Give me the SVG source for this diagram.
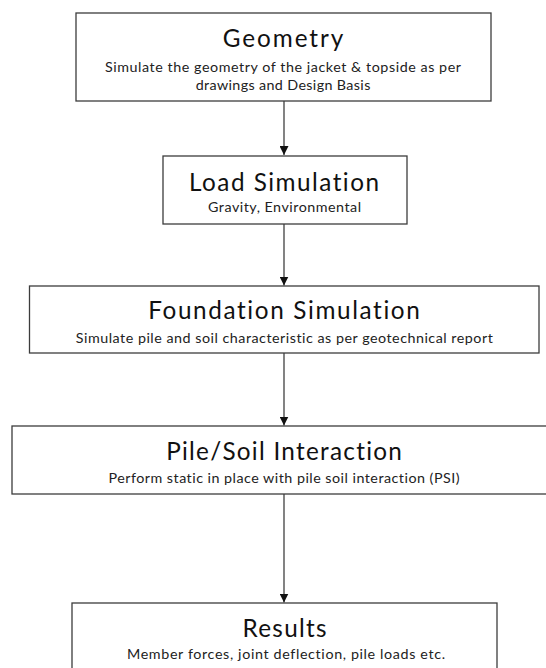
<svg xmlns="http://www.w3.org/2000/svg" width="546" height="668" viewBox="0 0 546 668">
<style>
.box{fill:#ffffff;stroke:#3c3c3c;stroke-width:1.3}
.t{font-family:Lato,"Liberation Sans",sans-serif;font-size:24.3px;fill:#111;text-anchor:middle;font-variant-ligatures:none}
.s{font-family:Lato,"Liberation Sans",sans-serif;font-size:14.3px;fill:#222;text-anchor:middle;font-variant-ligatures:none}
.c{stroke:#404040;stroke-width:1.3;fill:none}
</style>
<defs>
<marker id="ah" markerUnits="userSpaceOnUse" markerWidth="9" markerHeight="9" viewBox="0 0 10 10" refX="10" refY="5" orient="auto">
<path d="M0,0 L10,5 L0,10 z" fill="#111"/>
</marker>
</defs>
<rect width="546" height="668" fill="#ffffff"/>
<g id="connectors">
<line class="c" x1="284" y1="101" x2="284" y2="155" marker-end="url(#ah)"/>
<line class="c" x1="284" y1="224" x2="284" y2="285.5" marker-end="url(#ah)"/>
<line class="c" x1="284" y1="353" x2="284" y2="425.5" marker-end="url(#ah)"/>
<line class="c" x1="284" y1="494" x2="284" y2="602.5" marker-end="url(#ah)"/>
</g>
<g id="geometry">
<rect class="box" x="76" y="13" width="415" height="88"/>
<text class="t" x="283" y="47" textLength="120.7" lengthAdjust="spacing">Geometry</text>
<text class="s" x="283" y="72" textLength="356" lengthAdjust="spacing">Simulate the geometry of the jacket &amp; topside as per</text>
<text class="s" x="283" y="89.5" textLength="174.7" lengthAdjust="spacing">drawings and Design Basis</text>
</g>
<g id="load-simulation">
<rect class="box" x="163" y="156" width="244" height="68"/>
<text class="t" x="284" y="190.5" textLength="190" lengthAdjust="spacing">Load Simulation</text>
<text class="s" x="284.5" y="212" textLength="153" lengthAdjust="spacing">Gravity, Environmental</text>
</g>
<g id="foundation-simulation">
<rect class="box" x="29.5" y="286" width="509.5" height="67"/>
<text class="t" x="284" y="319.3" textLength="271.6" lengthAdjust="spacing">Foundation Simulation</text>
<text class="s" x="284.3" y="343.3" textLength="417" lengthAdjust="spacing">Simulate pile and soil characteristic as per geotechnical report</text>
</g>
<g id="pile-soil-interaction">
<rect class="box" x="12" y="426" width="545" height="68"/>
<text class="t" x="284" y="460" textLength="235.7" lengthAdjust="spacing">Pile/Soil Interaction</text>
<text class="s" x="284" y="483" textLength="351" lengthAdjust="spacing">Perform static in place with pile soil interaction (PSI)</text>
</g>
<g id="results">
<rect class="box" x="72" y="603" width="425" height="80"/>
<text class="t" x="284.5" y="636.5" textLength="84" lengthAdjust="spacing">Results</text>
<text class="s" x="286" y="658.5" textLength="318" lengthAdjust="spacing">Member forces, joint deflection, pile loads etc.</text>
</g>
</svg>
